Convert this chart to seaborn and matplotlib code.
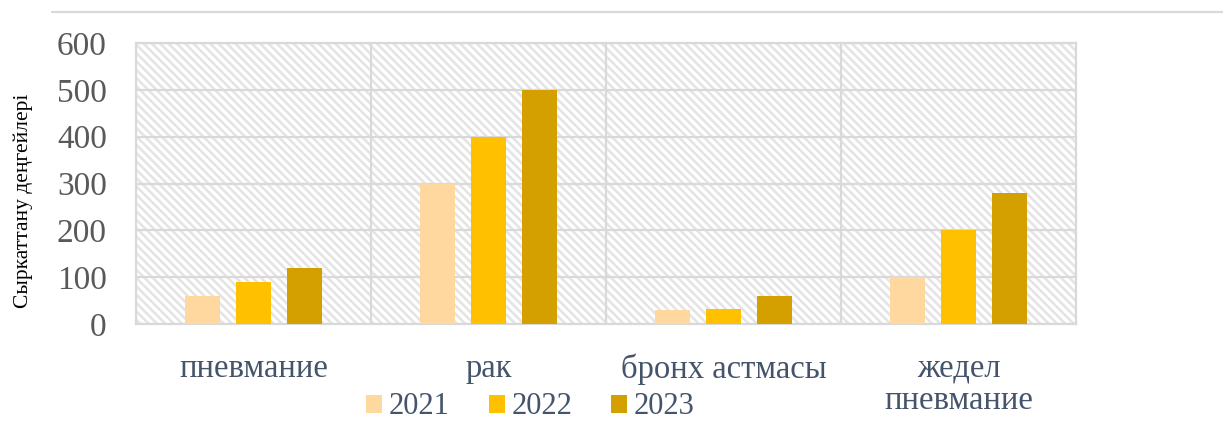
import matplotlib
matplotlib.use("Agg")
import matplotlib.pyplot as plt
import seaborn as sns
import pandas as pd
from matplotlib.patches import Rectangle
from matplotlib.lines import Line2D

categories = ["пневмание", "рак", "бронх астмасы", "жедел\nпневмание"]
years = ["2021", "2022", "2023"]
v2021 = [60, 300, 30, 100]
v2022 = [90, 400, 32, 200]
v2023 = [120, 500, 60, 280]
yticks = [0, 100, 200, 300, 400, 500, 600]
ylabel = "Сыркаттану деңгейлері"

colors = ["#FFD8A0", "#FFC000", "#D4A000"]

rows = []
for yr, vals in zip(years, [v2021, v2022, v2023]):
    for c, v in zip(categories, vals):
        rows.append({"cat": c, "year": yr, "value": v})
df = pd.DataFrame(rows)

sns.set_style("white")
plt.rcParams["font.family"] = ["Liberation Serif", "DejaVu Serif"]
plt.rcParams["hatch.linewidth"] = 1.8

fig = plt.figure(figsize=(12.23, 4.28), dpi=100)
ax = fig.add_axes([136 / 1223, 1 - 324 / 428, (1076 - 136) / 1223, (324 - 43) / 428])

# hatched background
bg = Rectangle((0, 0), 1, 1, transform=ax.transAxes, facecolor="white",
               edgecolor="#E4E4E4", hatch="\\\\\\\\", linewidth=0, zorder=0.1)
ax.add_patch(bg)

sns.barplot(data=df, x="cat", y="value", hue="year", order=categories,
            hue_order=years, palette=colors, width=0.65, gap=0.3,
            saturation=1, ax=ax, zorder=3, legend=True, linewidth=0,
            edgecolor="none")

ax.set_xlim(-0.5, 3.5)
ax.set_ylim(0, 600)
ax.set_yticks(yticks)
ax.set_yticklabels([str(t) for t in yticks], fontsize=24, color="#595959")
ax.set_xticks(range(len(categories)))
ax.set_xticklabels(categories, fontsize=23.5, color="#44546A", linespacing=1.08)
ax.set_xticks([0.5, 1.5, 2.5], minor=True)
ax.tick_params(axis="both", which="both", length=0)
ax.tick_params(axis="x", pad=21)
ax.tick_params(axis="y", pad=21)

ax.set_axisbelow(True)
ax.grid(True, axis="y", color="#D9D9D9", linewidth=1.6, zorder=0.5)
ax.grid(True, axis="x", which="minor", color="#D9D9D9", linewidth=1.6, zorder=0.5)
ax.grid(False, axis="x", which="major")
for s in ax.spines.values():
    s.set_visible(True)
    s.set_color("#D9D9D9")
    s.set_linewidth(1.6)

ax.set_xlabel("")
ax.set_ylabel(ylabel, fontsize=15.5, color="black")
ax.yaxis.set_label_coords((33 - 136) / 940, 0.438)

handles, labels = ax.get_legend_handles_labels()
if ax.legend_:
    ax.legend_.remove()
fig.legend(handles, labels, loc="center", bbox_to_anchor=(530.5 / 1223, 1 - 407 / 428),
           ncol=3, frameon=False, fontsize=22, labelcolor="#44546A",
           handlelength=0.52, handleheight=0.52, handletextpad=0.22, columnspacing=1.28)

fig.add_artist(Line2D([52 / 1223, 1.0], [1 - 12 / 428, 1 - 12 / 428],
                      transform=fig.transFigure, color="#D9D9D9", linewidth=1.6))

fig.savefig("out.png", dpi=100, facecolor="white")
